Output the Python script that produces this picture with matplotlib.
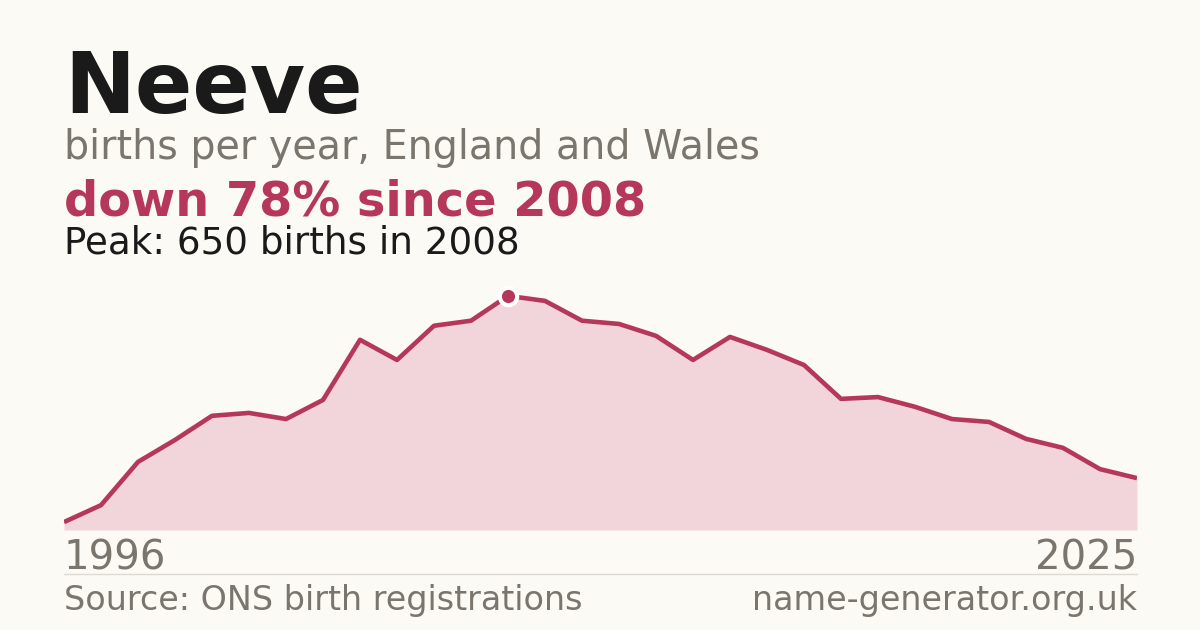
import matplotlib
matplotlib.use("Agg")
import matplotlib.pyplot as plt

plt.rcParams["font.family"] = ["DejaVu Sans"]

years = list(range(1996, 2026))
births = [22, 69, 189, 250, 317, 325, 308, 361, 528, 472, 567, 581, 650, 636, 581,
          572, 539, 472, 536, 500, 458, 364, 369, 342, 308, 300, 253, 228, 169, 144]
title = "Neeve"
subtitle = "births per year, England and Wales"
headline = "down 78% since 2008"
peak_text = "Peak: 650 births in 2008"
source = "Source: ONS birth registrations"
site = "name-generator.org.uk"

BG = "#fbfaf5"
RED = "#b5385a"
FILL = "#f2d5da"
GREY = "#7a756d"
DARK = "#1a1a1a"

W, H = 1200, 630
fig = plt.figure(figsize=(12, 6.3), dpi=100, facecolor=BG)

def fy(py):
    return 1 - py / H

ax = fig.add_axes([64 / W, fy(530), 1073 / W, 250 / H])
ax.set_facecolor(BG)
ax.fill_between(years, births, 0, color=FILL, lw=0)
ax.plot(years, births, color=RED, lw=3.3, solid_joinstyle="round", solid_capstyle="butt")
pk = births.index(max(births))
ax.plot([years[pk]], [births[pk]], "o", color=RED, ms=12.5, mec="white", mew=3, zorder=5)
ax.set_xlim(years[0], years[-1])
ax.set_ylim(0, 694)
ax.axis("off")

fig.text(64 / W, fy(113), title, fontsize=61, fontweight="bold", color=DARK, va="baseline")
fig.text(64 / W, fy(159), subtitle, fontsize=28.5, color=GREY, va="baseline")
fig.text(64 / W, fy(215), headline, fontsize=34.5, fontweight="bold", color=RED, va="baseline")
fig.text(64 / W, fy(253), peak_text, fontsize=26.8, color=DARK, va="baseline")
fig.text(64 / W, fy(570), str(years[0]), fontsize=29, color=GREY, va="baseline")
fig.text(1137 / W, fy(570), str(years[-1]), fontsize=29, color=GREY, va="baseline", ha="right")
fig.add_artist(plt.Line2D([64 / W, 1137 / W], [fy(574), fy(574)], color="#dddad3", lw=1))
fig.text(64 / W, fy(610), source, fontsize=24, color=GREY, va="baseline")
fig.text(1137 / W, fy(610), site, fontsize=24, color=GREY, va="baseline", ha="right")

fig.savefig("out.png", dpi=100, facecolor=BG)
